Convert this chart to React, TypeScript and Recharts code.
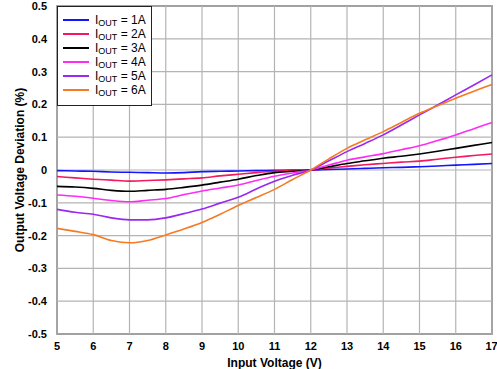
import { LineChart, Line, XAxis, YAxis, ReferenceLine, ReferenceArea } from 'recharts';

const vin = [5, 5.5, 6, 6.5, 7, 7.5, 8, 8.5, 9, 9.5, 10, 10.5, 11, 11.5, 12, 12.5, 13, 13.5, 14, 14.5, 15, 15.5, 16, 16.5, 17];

const iout1A = [-0.002, -0.003, -0.004, -0.006, -0.007, -0.008, -0.009, -0.008, -0.005, -0.004, -0.003, -0.002, -0.001, 0, 0, 0.002, 0.003, 0.005, 0.007, 0.008, 0.01, 0.012, 0.015, 0.017, 0.02];
const iout2A = [-0.02, -0.024, -0.028, -0.031, -0.034, -0.032, -0.03, -0.027, -0.024, -0.018, -0.013, -0.008, -0.004, -0.002, 0, 0.006, 0.011, 0.016, 0.02, 0.024, 0.027, 0.033, 0.039, 0.044, 0.049];
const iout3A = [-0.05, -0.052, -0.056, -0.062, -0.065, -0.062, -0.059, -0.053, -0.046, -0.037, -0.028, -0.017, -0.008, -0.004, 0, 0.01, 0.02, 0.028, 0.036, 0.042, 0.049, 0.057, 0.066, 0.075, 0.084];
const iout4A = [-0.076, -0.08, -0.086, -0.093, -0.097, -0.092, -0.087, -0.075, -0.064, -0.055, -0.046, -0.032, -0.019, -0.009, 0, 0.015, 0.03, 0.04, 0.05, 0.062, 0.074, 0.09, 0.107, 0.126, 0.145];
const iout5A = [-0.12, -0.129, -0.135, -0.146, -0.152, -0.152, -0.146, -0.133, -0.119, -0.101, -0.083, -0.058, -0.034, -0.016, 0, 0.028, 0.056, 0.081, 0.107, 0.137, 0.168, 0.198, 0.229, 0.259, 0.29];
const iout6A = [-0.178, -0.187, -0.197, -0.215, -0.222, -0.215, -0.198, -0.18, -0.16, -0.135, -0.108, -0.084, -0.059, -0.029, 0, 0.034, 0.066, 0.092, 0.117, 0.145, 0.173, 0.196, 0.219, 0.24, 0.261];

const xTicks = [5, 6, 7, 8, 9, 10, 11, 12, 13, 14, 15, 16, 17];
const yTicks = [-0.5, -0.4, -0.3, -0.2, -0.1, 0, 0.1, 0.2, 0.3, 0.4, 0.5];

const seriesLabels = ['1A', '2A', '3A', '4A', '5A', '6A'];
const seriesValues = [iout1A, iout2A, iout3A, iout4A, iout5A, iout6A];
const COLORS = ['#1414ff', '#f5185c', '#000000', '#ff2cf5', '#9a28f0', '#f57a22'];

const FONT = '"Liberation Sans", Arial, sans-serif';

const data = vin.map((v, i) => {
  const row: Record<string, number> = { vin: v };
  seriesLabels.forEach((s, k) => {
    row[s] = seriesValues[k][i];
  });
  return row;
});

function LegendBox() {
  return (
    <div
      style={{
        position: 'absolute',
        left: 57,
        top: 6,
        width: 95,
        height: 100,
        border: '1px solid #222',
        background: '#fff',
        boxSizing: 'border-box',
        padding: '6px 0 0 5px',
        fontFamily: FONT,
        fontSize: 12,
        color: '#000',
      }}
    >
      {seriesLabels.map((s, i) => (
        <div key={s} style={{ display: 'flex', alignItems: 'center', height: 14 }}>
          <div style={{ width: 26, height: 2, background: COLORS[i], marginRight: 6 }} />
          <span style={{ lineHeight: '14px', whiteSpace: 'nowrap' }}>
            I<span style={{ fontSize: 9, position: 'relative', top: 2 }}>OUT</span> = {s}
          </span>
        </div>
      ))}
    </div>
  );
}

export default function App() {
  return (
    <div style={{ position: 'absolute', left: 0, top: 0, width: 497, height: 369, background: '#fff' }}>
      <LineChart width={497} height={369} data={data} margin={{ top: 6, right: 5, left: 0, bottom: 0 }}>
        <XAxis
          dataKey="vin"
          type="number"
          domain={[5, 17]}
          ticks={xTicks}
          height={35}
          tickLine={false}
          axisLine={false}
          tickMargin={2}
          tick={{ fill: '#000', fontSize: 11, fontWeight: 700, fontFamily: FONT }}
          label={{
            value: 'Input Voltage (V)',
            position: 'insideBottom',
            offset: 2,
            style: { fill: '#000', fontSize: 12, fontWeight: 700, fontFamily: FONT },
          }}
        />
        <YAxis
          type="number"
          domain={[-0.5, 0.5]}
          ticks={yTicks}
          width={57}
          tickLine={false}
          axisLine={false}
          tickMargin={4}
          tickFormatter={(v: number) => (v === 0 ? '0' : v.toFixed(1))}
          tick={{ fill: '#000', fontSize: 11, fontWeight: 700, fontFamily: FONT }}
          label={{
            value: 'Output Voltage Deviation (%)',
            angle: -90,
            position: 'insideLeft',
            offset: 20,
            style: { textAnchor: 'middle', fill: '#000', fontSize: 12, fontWeight: 700, fontFamily: FONT },
          }}
        />
        {xTicks.map((t) => (
          <ReferenceLine key={`gx-${t}`} x={t} stroke="#b4b4b4" strokeWidth={1.2} />
        ))}
        {yTicks.map((t) => (
          <ReferenceLine key={`gy-${t}`} y={t} stroke="#b4b4b4" strokeWidth={1.2} />
        ))}
        {seriesLabels.map((s, i) => (
          <Line
            key={s}
            dataKey={s}
            stroke={COLORS[i]}
            strokeWidth={1.6}
            dot={false}
            type="monotone"
            isAnimationActive={false}
          />
        ))}
        <ReferenceArea x1={5} x2={17} y1={-0.5} y2={0.5} fill="none" stroke="#6a6a6a" strokeWidth={1.5} />
      </LineChart>
      <LegendBox />
    </div>
  );
}
